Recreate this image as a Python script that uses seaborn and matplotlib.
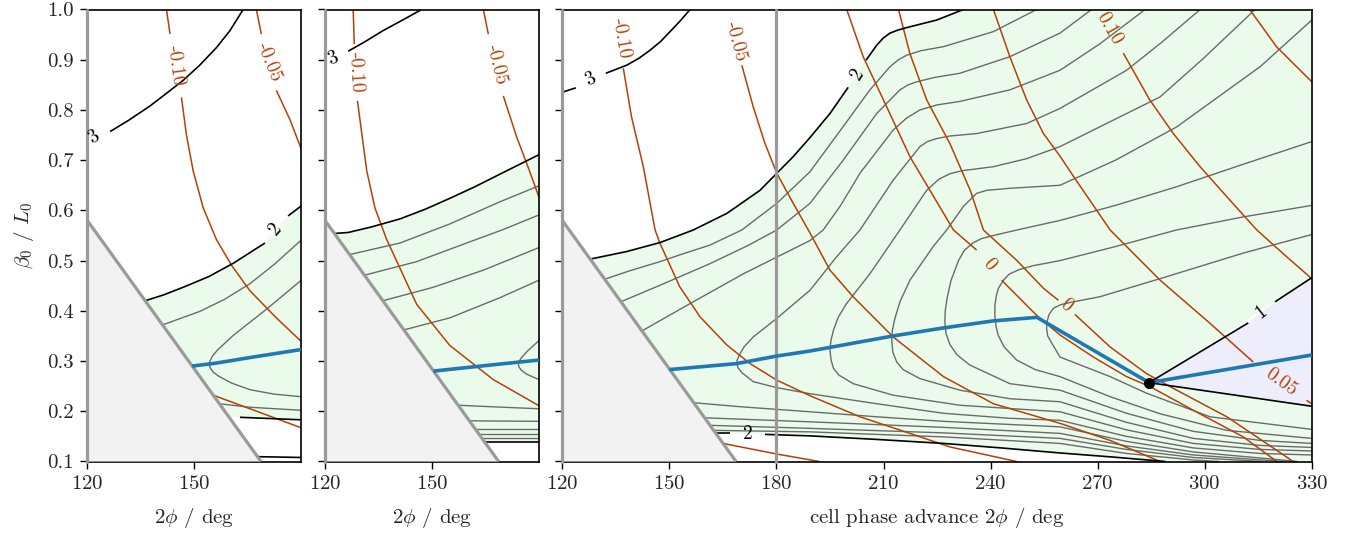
import matplotlib
matplotlib.use("Agg")
import matplotlib.pyplot as plt
import seaborn as sns
import pandas as pd

# values
# x = cell phase advance 2phi [deg], y = beta0 / L0
beta_ticks = [0.1, 0.2, 0.3, 0.4, 0.5, 0.6, 0.7, 0.8, 0.9, 1.0]
phase_ticks_small = [120, 150]
phase_ticks_main = [120, 150, 180, 210, 240, 270, 300, 330]

# excluded corner, same in all three panels
forbidden = [(120, 0.1), (120, 0.58), (168.7, 0.1)]
walls_small = [120]
walls_main = [120, 180]

# ---- left panel ----
p1_green = [(136.2, 0.420), (146.9, 0.447), (161.0, 0.495), (169.8, 0.535), (176.3, 0.589),
            (180, 0.609), (180, 0.183), (162.8, 0.188), (159.8, 0.188)]
p1_black = [
    [(126.4, 0.757), (131.5, 0.779), (137.6, 0.808), (142.0, 0.832), (146.9, 0.859), (151.5, 0.889),
     (156.2, 0.924), (160.0, 0.958), (163.7, 1.0)],
    [(136.2, 0.420), (141.5, 0.432), (146.9, 0.447), (154.0, 0.468), (161.0, 0.495), (169.8, 0.535)],
    [(176.3, 0.589), (180, 0.609)],
    [(162.8, 0.188), (180, 0.183)],
    [(165.1, 0.110), (180, 0.108)],
]
p1_gray = [
    [(141.1, 0.372), (151.6, 0.399), (158.5, 0.423), (165.6, 0.454), (172.5, 0.493), (180, 0.541)],
    [(180, 0.461), (170.2, 0.403), (160.9, 0.351), (156.5, 0.322), (155.0, 0.309), (154.4, 0.300),
     (154.2, 0.294), (154.5, 0.286), (155.3, 0.278), (156.8, 0.270), (160.5, 0.256), (165.6, 0.243),
     (172.5, 0.234), (180, 0.229)],
    [(157.0, 0.215), (165.6, 0.208), (180, 0.202)],
]
p1_orange = [
    [(142.2, 1.0), (143.2, 0.951)],
    [(146.4, 0.825), (147.8, 0.750), (149.7, 0.678), (152.5, 0.605), (156.2, 0.542), (160.5, 0.490),
     (165.6, 0.440), (173.0, 0.386), (180, 0.339)],
    [(167.4, 1.0), (168.8, 0.951)],
    [(173.0, 0.839), (176.8, 0.781), (180, 0.722)],
    [(155.3, 0.232), (165.6, 0.205), (180, 0.167)],
]
p1_blue = [(149.4, 0.290), (156.2, 0.296), (165.6, 0.307), (180, 0.323)]
p1_labels = [(121.9, 0.745, "3", 32, "k"), (172.8, 0.562, "2", 49, "k"),
             (144.8, 0.888, "-0.10", -82, "o"), (171.0, 0.895, "-0.05", -68, "o")]

# ---- middle panel ----
p2_green = [(122.6, 0.554), (126.5, 0.556), (141.0, 0.583), (155.0, 0.624), (169.0, 0.672),
            (180, 0.711), (180, 0.139), (164.7, 0.139)]
p2_black = [
    [(126.5, 0.917), (131.0, 0.935), (136.3, 0.958), (141.5, 0.978), (147.1, 1.0)],
    [(122.6, 0.554), (126.5, 0.556), (133.0, 0.567), (141.0, 0.583), (148.0, 0.602), (155.0, 0.624),
     (162.0, 0.647), (169.0, 0.672), (180, 0.711)],
    [(164.7, 0.139), (180, 0.139)],
]
p2_gray = [
    [(126.9, 0.512), (141.0, 0.535), (155.0, 0.573), (169.0, 0.617), (180, 0.649)],
    [(131.1, 0.471), (145.7, 0.498), (159.7, 0.535), (170.0, 0.562), (180, 0.591)],
    [(136.2, 0.420), (150.4, 0.447), (164.4, 0.481), (180, 0.526)],
    [(142.1, 0.362), (155.0, 0.386), (169.0, 0.426), (180, 0.461)],
    [(180, 0.341), (176.5, 0.318), (175.0, 0.306), (174.4, 0.299), (174.2, 0.294), (174.4, 0.288),
     (175.0, 0.282), (176.5, 0.274), (180, 0.263)],
    [(157.3, 0.212), (170.0, 0.208), (180, 0.205)],
    [(160.5, 0.181), (180, 0.180)],
    [(162.2, 0.164), (180, 0.164)],
    [(163.2, 0.154), (180, 0.154)],
    [(163.9, 0.147), (180, 0.147)],
]
p2_orange = [
    [(127.9, 1.0), (128.2, 0.931)],
    [(129.1, 0.818), (131.7, 0.679), (134.0, 0.605), (137.3, 0.542), (145.7, 0.413), (155.0, 0.331),
     (167.2, 0.263), (180, 0.211)],
    [(164.4, 1.0), (165.8, 0.951)],
    [(170.0, 0.828), (173.7, 0.747), (177.0, 0.685), (180, 0.626)],
]
p2_blue = [(150.4, 0.280), (159.7, 0.287), (169.0, 0.294), (180, 0.302)]
p2_labels = [(122.1, 0.903, "3", 22, "k"), (128.5, 0.876, "-0.10", -87, "o"),
             (168.0, 0.890, "-0.05", -76, "o")]

# ---- main panel ----
main_green = [(127.8, 0.503), (138.0, 0.518), (147.4, 0.536), (156.7, 0.561), (166.1, 0.594),
              (175.4, 0.640), (180.1, 0.674), (184.7, 0.707), (189.4, 0.745), (195.0, 0.793),
              (200.1, 0.845), (205.1, 0.899), (208.1, 0.929), (209.9, 0.943), (211.8, 0.953),
              (214.0, 0.959), (216.5, 0.964), (224.9, 0.979), (232.4, 1.0), (330, 1.0), (330, 0.466),
              (284.4, 0.257), (330, 0.210), (330, 0.1), (289.0, 0.1), (259.45, 0.117), (226.8, 0.136),
              (189.4, 0.151), (176.8, 0.154), (167.0, 0.156), (163.0, 0.156)]
main_lavender = [(284.4, 0.257), (312.2, 0.376), (319.7, 0.418), (330, 0.466), (330, 0.210)]
main_black = [
    [(120.3, 0.836), (123.8, 0.844)],
    [(132.2, 0.873), (138.0, 0.889), (141.5, 0.903), (144.6, 0.919), (147.5, 0.936), (150.2, 0.956),
     (153.0, 0.977), (155.8, 1.0)],
    [(127.8, 0.503), (138.0, 0.518), (147.4, 0.536), (156.7, 0.561), (166.1, 0.594), (175.4, 0.640),
     (180.1, 0.674), (184.7, 0.707), (189.4, 0.745), (195.0, 0.793), (200.1, 0.845)],
    [(205.1, 0.899), (208.1, 0.929), (209.9, 0.943), (211.8, 0.953), (214.0, 0.959), (216.5, 0.964),
     (224.9, 0.979), (232.4, 1.0)],
    [(163.0, 0.156), (167.0, 0.156)],
    [(176.8, 0.154), (189.4, 0.151), (208.0, 0.144), (226.8, 0.136), (243.0, 0.127), (259.45, 0.117),
     (274.0, 0.109), (289.0, 0.1)],
    [(284.4, 0.257), (312.2, 0.376)],
    [(319.7, 0.418), (330, 0.466)],
    [(284.4, 0.257), (330, 0.210)],
]
main_gray = [
    [(131.9, 0.463), (139.0, 0.480), (147.4, 0.498), (154.0, 0.514), (161.4, 0.531), (170.3, 0.561),
     (180.1, 0.614), (189.4, 0.677), (198.7, 0.767), (206.2, 0.840), (211.8, 0.886), (214.2, 0.900),
     (216.5, 0.909), (220.5, 0.918), (226.8, 0.926), (240.8, 0.956), (252.9, 1.0)],
    [(136.4, 0.418), (147.4, 0.451), (161.4, 0.494), (172.0, 0.530), (180.1, 0.561), (189.4, 0.614),
     (198.7, 0.700), (208.1, 0.793), (214.6, 0.840), (216.9, 0.850), (219.3, 0.856), (224.5, 0.865),
     (231.4, 0.873), (245.4, 0.906), (259.45, 0.953), (268.3, 1.0)],
    [(142.3, 0.360), (156.7, 0.418), (170.8, 0.474), (180.1, 0.507), (189.4, 0.540), (193.1, 0.561),
     (198.0, 0.610), (203.4, 0.674), (212.7, 0.760), (216.5, 0.784), (220.2, 0.800), (225.0, 0.810),
     (231.4, 0.817), (245.4, 0.840), (259.45, 0.879), (270.7, 0.932), (283.3, 1.0)],
    [(298.7, 1.0), (288.0, 0.935), (278.1, 0.879), (259.45, 0.803), (250.1, 0.773), (236.1, 0.753),
     (228.5, 0.748), (224.9, 0.743), (222.3, 0.737), (220.2, 0.727), (212.7, 0.660), (203.4, 0.561),
     (196.9, 0.508), (189.4, 0.441), (180.1, 0.385), (173.5, 0.348), (170.9, 0.328), (169.6, 0.312),
     (169.0, 0.302), (168.9, 0.295), (169.2, 0.287), (170.3, 0.277), (173.5, 0.259), (180.1, 0.247),
     (189.4, 0.235), (208.1, 0.215), (226.8, 0.196), (245.4, 0.186), (259.45, 0.182), (278.1, 0.150),
     (296.8, 0.127), (315.5, 0.116), (330, 0.113)],
    [(314.1, 1.0), (300.0, 0.905), (287.5, 0.826), (259.45, 0.727), (250.1, 0.703), (240.8, 0.687),
     (232.0, 0.679), (228.6, 0.673), (225.5, 0.662), (222.1, 0.640), (214.6, 0.561), (206.2, 0.474),
     (199.5, 0.413), (197.3, 0.387), (196.0, 0.362), (195.3, 0.342), (195.0, 0.322), (195.3, 0.302),
     (196.0, 0.285), (197.5, 0.272), (201.5, 0.255), (212.7, 0.232), (231.4, 0.212), (259.45, 0.199),
     (278.1, 0.163), (296.8, 0.136), (315.5, 0.124), (330, 0.121)],
    [(330, 0.979), (315.5, 0.886), (292.1, 0.766), (275.0, 0.700), (259.45, 0.650), (245.4, 0.644),
     (239.0, 0.640), (236.1, 0.634), (232.4, 0.608), (227.7, 0.561), (223.9, 0.528), (217.4, 0.461),
     (214.6, 0.418), (213.2, 0.385), (212.5, 0.362), (212.3, 0.342), (212.6, 0.318), (213.7, 0.298),
     (215.5, 0.283), (220.2, 0.265), (231.4, 0.242), (245.4, 0.225), (259.45, 0.219), (278.1, 0.178),
     (296.8, 0.146), (315.5, 0.132), (330, 0.128)],
    [(330, 0.737), (310.0, 0.690), (292.1, 0.647), (275.0, 0.610), (259.45, 0.580), (248.0, 0.562),
     (242.0, 0.552), (237.5, 0.544), (235.0, 0.535), (232.6, 0.520), (231.0, 0.500), (228.9, 0.460),
     (227.8, 0.425), (227.3, 0.400), (227.2, 0.378), (227.5, 0.355), (228.6, 0.333), (230.5, 0.313),
     (234.2, 0.292), (245.4, 0.255), (259.45, 0.242), (278.1, 0.196), (296.8, 0.160), (315.5, 0.142),
     (330, 0.136)],
    [(330, 0.610), (310.8, 0.587), (292.1, 0.561), (275.0, 0.528), (259.45, 0.500), (252.0, 0.490),
     (248.0, 0.482), (245.2, 0.473), (243.5, 0.460), (242.2, 0.445), (241.6, 0.430), (241.2, 0.410),
     (241.2, 0.391), (241.5, 0.370), (242.1, 0.352), (243.8, 0.328), (247.3, 0.302), (252.5, 0.283),
     (259.45, 0.269), (273.5, 0.229), (287.5, 0.195), (306.2, 0.162), (330, 0.146)],
    [(330, 0.552), (310.8, 0.515), (289.3, 0.468), (270.6, 0.428), (262.5, 0.417), (259.5, 0.412),
     (257.6, 0.405), (256.4, 0.393), (255.8, 0.378), (255.7, 0.365), (256.0, 0.350), (257.2, 0.335),
     (259.45, 0.308), (273.5, 0.269), (283.7, 0.236), (301.5, 0.189), (330, 0.164)],
    [(156.8, 0.217), (170.0, 0.209), (189.4, 0.199), (208.1, 0.189), (226.8, 0.180), (259.45, 0.169),
     (278.1, 0.140), (296.8, 0.119), (315.5, 0.107), (326.0, 0.1)],
    [(159.9, 0.187), (189.4, 0.179), (226.8, 0.168), (259.45, 0.156), (278.1, 0.131), (296.8, 0.113),
     (322.0, 0.1)],
    [(161.4, 0.172), (189.4, 0.166), (226.8, 0.157), (259.45, 0.146), (278.1, 0.124), (296.8, 0.108),
     (316.0, 0.1)],
    [(162.4, 0.162), (189.4, 0.159), (226.8, 0.149), (259.45, 0.136), (278.1, 0.116), (296.8, 0.103),
     (304.0, 0.1)],
]
main_orange = [
    [(137.1, 0.883), (139.4, 0.786), (142.7, 0.687), (146.0, 0.561), (147.4, 0.534), (152.9, 0.448),
     (158.6, 0.388), (166.1, 0.332), (172.6, 0.295), (180.1, 0.262), (189.4, 0.231), (203.4, 0.189),
     (217.4, 0.156), (228.6, 0.129), (247.3, 0.1)],
    [(170.3, 0.889), (173.5, 0.806), (176.8, 0.733), (180.1, 0.674), (184.7, 0.614), (189.4, 0.555),
     (195.0, 0.481), (201.5, 0.428), (212.7, 0.348), (226.8, 0.269), (240.8, 0.215), (259.45, 0.176),
     (273.5, 0.142), (287.5, 0.1)],
    [(165.0, 0.136), (180.0, 0.115), (192.0, 0.1)],
    [(199.7, 1.0), (204.3, 0.906), (210.9, 0.806), (217.4, 0.707), (223.0, 0.640), (229.6, 0.561),
     (236.1, 0.521)],
    [(243.1, 0.461), (252.9, 0.391), (259.45, 0.352), (268.8, 0.308), (278.1, 0.269), (284.7, 0.249),
     (296.8, 0.202), (310.8, 0.149), (320.2, 0.1)],
    [(214.2, 1.0), (217.4, 0.912), (222.1, 0.820), (228.6, 0.733), (234.3, 0.640), (238.0, 0.561),
     (247.4, 0.500), (254.8, 0.445), (259.0, 0.421)],
    [(263.6, 0.393), (273.5, 0.328), (283.7, 0.275), (290.3, 0.249), (306.2, 0.189), (324.8, 0.1)],
    [(240.8, 1.0), (245.4, 0.906), (250.1, 0.820), (254.8, 0.753), (259.45, 0.708), (263.2, 0.668),
     (273.5, 0.561), (287.5, 0.461), (301.5, 0.375), (313.6, 0.298)],
    [(328.5, 0.222), (330, 0.215)],
    [(277.2, 0.913), (284.6, 0.820), (291.2, 0.753), (298.7, 0.687), (307.1, 0.620), (314.6, 0.561),
     (322.9, 0.508), (330, 0.464)],
    [(312.6, 1.0), (320.1, 0.926), (330, 0.856)],
]
main_blue = [(150.0, 0.283), (168.9, 0.295), (180.1, 0.310), (189.4, 0.320), (212.7, 0.350),
             (226.8, 0.366), (240.8, 0.380), (253.0, 0.387), (284.4, 0.257), (330, 0.312)]
main_dot = (284.4, 0.257)
main_labels = [(136.6, 0.943, "-0.10", -80, "o"), (168.6, 0.937, "-0.05", -75, "o"),
               (273.3, 0.962, "0.10", -60, "o"), (239.6, 0.492, "0", -50, "o"),
               (261.3, 0.410, "0", -40, "o"), (321.4, 0.258, "0.05", -36, "o"),
               (127.8, 0.860, "3", 26, "k"), (202.6, 0.871, "2", 57, "k"),
               (171.9, 0.155, "2", 0, "k"), (315.9, 0.398, "1", 38, "k")]

# ---- style ----
GREEN = "#ebfbeb"
LAVENDER = "#ededfc"
FORBID = "#f2f2f2"
WALL = "#9a9a9a"
GREY = "#6a6a6a"
ORANGE = "#b4410a"
BLUE = "#1f77b4"
label_colors = {"k": "black", "o": ORANGE}

sns.set_theme(style="ticks")
plt.rcParams["font.family"] = "serif"
plt.rcParams["font.serif"] = ["cmr10", "DejaVu Serif"]
plt.rcParams["mathtext.fontset"] = "cm"
plt.rcParams["axes.unicode_minus"] = False
plt.rcParams["axes.formatter.use_mathtext"] = True


def trace(ax, pts, color, lw, z):
    df = pd.DataFrame(pts, columns=["phase", "beta"])
    sns.lineplot(data=df, x="phase", y="beta", ax=ax, sort=False, estimator=None,
                 color=color, lw=lw, zorder=z, solid_capstyle="butt", solid_joinstyle="round")


def panel(ax, green, lavender, gray, orange, black, blue, labels, walls, xmax, xticks):
    xs, ys = zip(*green)
    ax.fill(xs, ys, color=GREEN, lw=0, zorder=0.5)
    if lavender:
        xs, ys = zip(*lavender)
        ax.fill(xs, ys, color=LAVENDER, lw=0, zorder=0.5)
    for ln in gray:
        trace(ax, ln, GREY, 1.0, 2)
    for ln in orange:
        trace(ax, ln, ORANGE, 1.1, 2.2)
    for ln in black:
        trace(ax, ln, "black", 1.2, 2.4)
    xs, ys = zip(*forbidden)
    ax.fill(xs, ys, color=FORBID, lw=0, zorder=3)
    trace(ax, forbidden[1:], WALL, 2.3, 3.5)
    for w in walls:
        ax.axvline(w, color=WALL, lw=2.3, zorder=3.6, clip_on=False)
    trace(ax, blue, BLUE, 2.6, 4)
    for x, y, s, rot, c in labels:
        ax.text(x, y, s, rotation=rot, rotation_mode="anchor", ha="center", va="center",
                fontsize=14, color=label_colors[c], zorder=5)
    ax.set_xlim(120, xmax)
    ax.set_ylim(0.1, 1.0)
    ax.set_xticks(xticks)
    ax.set_yticks(beta_ticks)
    ax.set_xlabel("")
    ax.set_ylabel("")
    ax.tick_params(direction="out", length=5, width=1.0, labelsize=15, pad=5, color="black")
    for sp in ax.spines.values():
        sp.set_color("black")
        sp.set_linewidth(1.2)
        sp.set_visible(True)


fig = plt.figure(figsize=(13.54, 5.36), dpi=100)
H = 452 / 536
B = 1 - 461.5 / 536
ax1 = fig.add_axes([87.3 / 1354, B, 214 / 1354, H])
ax2 = fig.add_axes([325 / 1354, B, 214 / 1354, H])
ax3 = fig.add_axes([562.3 / 1354, B, 749.5 / 1354, H])

panel(ax1, p1_green, None, p1_gray, p1_orange, p1_black, p1_blue, p1_labels,
      walls_small, 180, phase_ticks_small)
panel(ax2, p2_green, None, p2_gray, p2_orange, p2_black, p2_blue, p2_labels,
      walls_small, 180, phase_ticks_small)
panel(ax3, main_green, main_lavender, main_gray, main_orange, main_black, main_blue, main_labels,
      walls_main, 330, phase_ticks_main)
ax3.plot(*main_dot, "o", color="black", ms=7, zorder=6)

ax1.set_yticklabels([f"{b:.1f}" for b in beta_ticks])
ax2.tick_params(labelleft=False)
ax3.tick_params(labelleft=False)

ax1.set_xlabel(r"$2\phi$ / deg", fontsize=15, labelpad=9)
ax2.set_xlabel(r"$2\phi$ / deg", fontsize=15, labelpad=9)
ax3.set_xlabel(r"cell phase advance $2\phi$ / deg", fontsize=15, labelpad=9)
ax1.set_ylabel(r"$\beta_0$ / $L_0$", fontsize=15, labelpad=8)

fig.savefig("out.png", dpi=100)
